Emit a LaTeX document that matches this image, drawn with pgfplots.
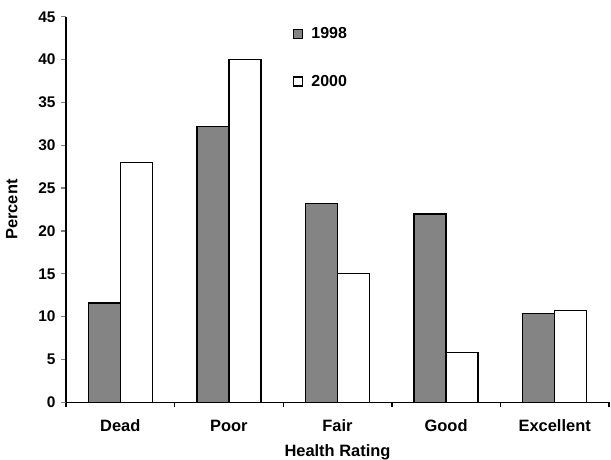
\documentclass[border=0pt]{standalone}
\usepackage{fontspec}
\setmainfont{Liberation Sans}
\usepackage{pgfplots}
\pgfplotsset{compat=1.18}
\definecolor{barg}{RGB}{132,132,132}
\pgfplotsset{sqleg/.style={legend image code/.code={\draw[##1,line width=1.3bp] (0bp,-4.5bp) rectangle (9bp,4.5bp);}}}
\begin{document}
\begin{tikzpicture}
\useasboundingbox (-66bp,-57.7bp) rectangle (545bp,402.3bp);
\begin{axis}[
  at={(0,0)}, anchor=south west,
  scale only axis, width=543bp, height=385.5bp,
  xmin=-0.5, xmax=4.5, ymin=0, ymax=45,
  axis x line*=bottom, axis y line*=left,
  axis line style={line width=1.4bp,-},
  ybar=0pt, bar width=32bp,
  xtick={0,...,4}, xticklabels={Dead,Poor,Fair,Good,Excellent},
  minor xtick={-0.5,0.5,...,4.5},
  ytick={0,5,...,45},
  tick align=outside,
  major tick length=5bp, minor tick length=5bp,
  every major x tick/.append style={draw=none},
  every minor x tick/.append style={draw=black,line width=1.4bp},
  every major y tick/.append style={line width=1.4bp},
  /pgf/number format/assume math mode=true,
  yticklabel style={font=\fontsize{15.5}{18}\selectfont\bfseries, xshift=-2bp},
  xticklabel style={font=\fontsize{16.5}{19}\selectfont\bfseries, yshift=-9bp},
  xlabel={Health Rating}, ylabel={Percent},
  xlabel style={font=\fontsize{16.5}{19}\selectfont\bfseries, yshift=-6bp},
  ylabel style={font=\fontsize{16.5}{19}\selectfont\bfseries, yshift=14bp},
  legend style={at={(0.418,0.978)}, anchor=north west, draw=none, fill=none,
    inner sep=0pt, row sep=31bp, font=\fontsize{16}{19}\selectfont\bfseries,
    /tikz/every odd column/.append style={column sep=6bp}},
  legend cell align=left,
]
\addplot[fill=barg, draw=black, line width=1.4bp, sqleg] coordinates {(0,11.6) (1,32.2) (2,23.2) (3,22.0) (4,10.4)};
\addplot[fill=white, draw=black, line width=1.4bp, sqleg] coordinates {(0,28.0) (1,40.0) (2,15.0) (3,5.8) (4,10.7)};
\legend{1998,2000}
\end{axis}
\end{tikzpicture}
\end{document}
